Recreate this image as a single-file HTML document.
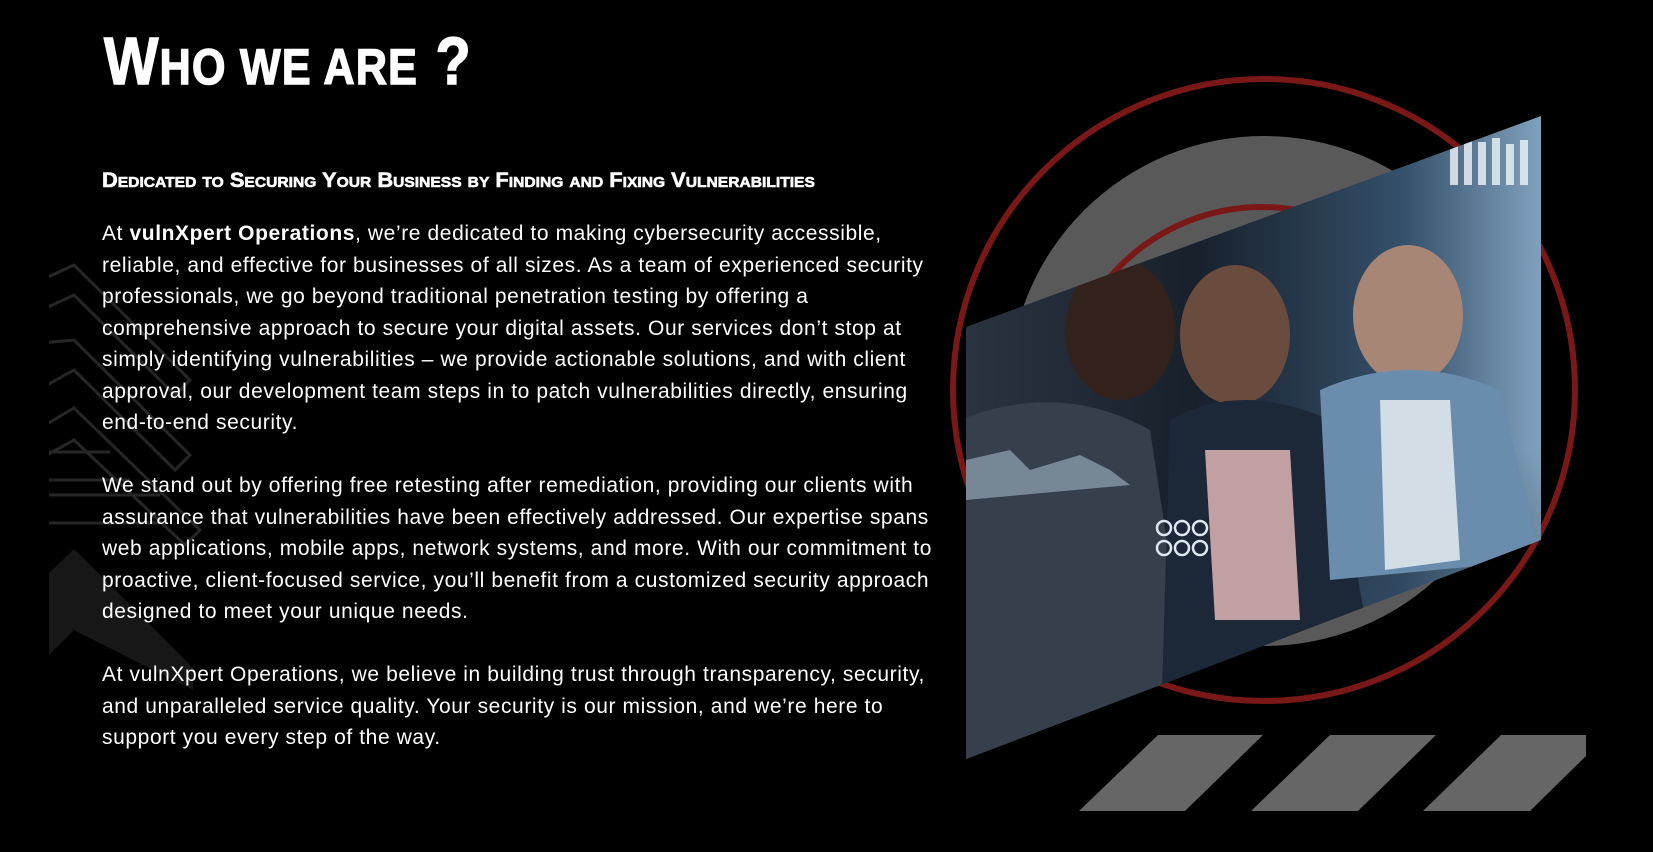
<!DOCTYPE html>
<html><head><meta charset="utf-8"><style>
html,body{margin:0;padding:0;background:#000;}
body{width:1653px;height:852px;position:relative;overflow:hidden;font-family:"Liberation Sans",sans-serif;color:#fff;}
.t{position:absolute;left:104px;top:22px;font-weight:bold;font-size:67px;transform:scaleX(0.86);transform-origin:0 0;white-space:nowrap;line-height:80px;letter-spacing:1.5px;-webkit-text-stroke:1.5px #fff;}
.t span{font-size:50px;}
.s{position:absolute;left:102px;top:168px;font-weight:bold;font-size:21px;font-variant:small-caps;transform:scaleX(1.04);transform-origin:0 0;white-space:nowrap;line-height:26px;-webkit-text-stroke:0.6px #fff;}
.p{position:absolute;left:102px;font-size:21px;line-height:31.5px;white-space:nowrap;letter-spacing:0.6px;}
svg{position:absolute;left:0;top:0;}
</style></head><body>
<svg width="1653" height="852" viewBox="0 0 1653 852">
<defs>
<clipPath id="lc"><rect x="49" y="0" width="200" height="852"/></clipPath>
<clipPath id="img"><polygon points="1541,116 1541,540 966,759 966,327"/></clipPath>
<linearGradient id="bg" x1="0" y1="0" x2="1" y2="0">
<stop offset="0" stop-color="#2a3440"/><stop offset="0.4" stop-color="#18202c"/><stop offset="0.75" stop-color="#34506a"/><stop offset="1" stop-color="#85a6c2"/></linearGradient>
<linearGradient id="bot" x1="0" y1="0" x2="0" y2="1">
<stop offset="0" stop-color="#000" stop-opacity="0"/><stop offset="1" stop-color="#5d80a8" stop-opacity="0.6"/></linearGradient>
</defs>
<g clip-path="url(#lc)" fill="none" stroke="#262626" stroke-width="3">
<polyline points="20,290 74,265 190,380 175,395 74,295 20,320"/>
<polyline points="20,345 74,340 190,455 175,470 74,370 20,400"/>
<polyline points="20,440 74,408 200,530 185,545 74,440 20,470"/>
<line x1="49" y1="452" x2="110" y2="452"/><line x1="49" y1="480" x2="130" y2="480"/><line x1="49" y1="495" x2="160" y2="495"/><line x1="49" y1="523" x2="160" y2="523"/>
</g>
<polygon points="49,573 74,549 193,668 193,690 74,630 49,655" fill="#171717"/>
<circle cx="1264" cy="390" r="311" fill="none" stroke="#7a1818" stroke-width="6"/>
<circle cx="1264" cy="391" r="255" fill="#595959"/>
<circle cx="1262" cy="407" r="200" fill="none" stroke="#7a1818" stroke-width="6"/>
<g clip-path="url(#img)">
<rect x="960" y="110" width="590" height="660" fill="url(#bg)"/>
<rect x="960" y="450" width="590" height="320" fill="url(#bot)"/>
<ellipse cx="1120" cy="330" rx="55" ry="70" fill="#33221c"/>
<path d="M960 420 Q1060 380 1150 430 L1200 760 L960 760Z" fill="#36404c"/>
<ellipse cx="1235" cy="335" rx="55" ry="70" fill="#6a4c3e"/>
<path d="M1170 420 Q1240 380 1330 420 L1390 760 L1160 760Z" fill="#1c2838"/>
<path d="M1205 450 L1290 450 L1300 620 L1215 620Z" fill="#c0a0a2"/>
<ellipse cx="1408" cy="315" rx="55" ry="70" fill="#a88676"/>
<path d="M1320 390 Q1410 350 1500 390 L1541 560 L1330 580Z" fill="#6a8cad"/>
<path d="M1380 400 L1450 400 L1460 560 L1385 570Z" fill="#d3dde6"/>
<g fill="#e8eef4" opacity="0.85"><rect x="1450" y="145" width="8" height="40"/><rect x="1464" y="140" width="8" height="45"/><rect x="1478" y="142" width="8" height="43"/><rect x="1492" y="138" width="8" height="47"/><rect x="1506" y="144" width="8" height="41"/><rect x="1520" y="140" width="8" height="45"/></g>
<g fill="none" stroke="#dfe8f0" stroke-width="2.5"><circle cx="1164" cy="528" r="7"/><circle cx="1182" cy="528" r="7"/><circle cx="1200" cy="528" r="7"/><circle cx="1164" cy="548" r="7"/><circle cx="1182" cy="548" r="7"/><circle cx="1200" cy="548" r="7"/></g>
<path d="M966 460 L1010 450 L1030 470 L1080 455 L1110 470 L1130 485 L966 500Z" fill="#b8cde0" opacity="0.5"/>
</g>
<g fill="#666">
<polygon points="1079,811 1158,735 1263,735 1185,811"/>
<polygon points="1251,811 1330,735 1436,735 1358,811"/>
<polygon points="1423,811 1501,735 1586,735 1586,756 1530,811"/>
</g>
</svg>
<div class="t">W<span>HO WE ARE</span> ?</div>
<div class="s">Dedicated to Securing Your Business by Finding and Fixing Vulnerabilities</div>
<div class="p" style="top:218px">At <b>vulnXpert Operations</b>, we’re dedicated to making cybersecurity accessible,<br>reliable, and effective for businesses of all sizes. As a team of experienced security<br>professionals, we go beyond traditional penetration testing by offering a<br>comprehensive approach to secure your digital assets. Our services don’t stop at<br>simply identifying vulnerabilities – we provide actionable solutions, and with client<br>approval, our development team steps in to patch vulnerabilities directly, ensuring<br>end-to-end security.</div>
<div class="p" style="top:470px">We stand out by offering free retesting after remediation, providing our clients with<br>assurance that vulnerabilities have been effectively addressed. Our expertise spans<br>web applications, mobile apps, network systems, and more. With our commitment to<br>proactive, client-focused service, you’ll benefit from a customized security approach<br>designed to meet your unique needs.</div>
<div class="p" style="top:659px">At vulnXpert Operations, we believe in building trust through transparency, security,<br>and unparalleled service quality. Your security is our mission, and we’re here to<br>support you every step of the way.</div>
</body></html>
